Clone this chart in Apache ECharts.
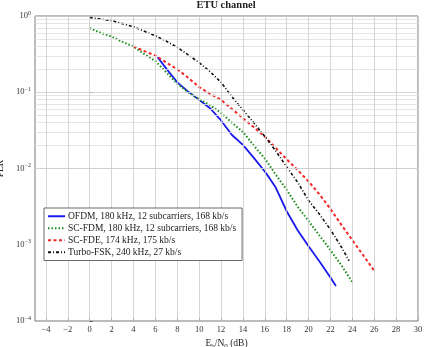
<!DOCTYPE html>
<html>
<head>
<meta charset="utf-8">
<script src="https://cdn.jsdelivr.net/npm/echarts@6/dist/echarts.min.js"></script>
<style>
  html, body { margin: 0; padding: 0; background: #fff; }
  #chart { width: 424px; height: 347px; }
</style>
</head>
<body>
<div id="chart"></div>
<script>
// Eb/N0 (dB) and PLR
const ofdmX = [6.2, 7, 8, 9, 10, 11, 12, 13, 14, 15, 16, 16.4, 17, 18, 19, 20, 21, 22, 22.5]
const ofdmY = [0.288, 0.204, 0.135, 0.102, 0.0794, 0.0617, 0.0427, 0.0275, 0.0204, 0.0138, 0.00912, 0.00759, 0.00562, 0.00275, 0.00155, 0.000955, 0.000603, 0.000372, 0.000288]

const scfdmX = [0, 1, 2, 3, 4, 5, 6, 7, 8, 9, 10, 11, 12, 13, 14, 15, 16, 17, 18, 19, 20, 21, 22, 23, 24]
const scfdmY = [0.692, 0.603, 0.537, 0.457, 0.398, 0.316, 0.257, 0.182, 0.129, 0.100, 0.0813, 0.0676, 0.0537, 0.0398, 0.0302, 0.0200, 0.0135, 0.00832, 0.00525, 0.00316, 0.00204, 0.00132, 0.000851, 0.000537, 0.000324]

const scfdeX = [4, 5, 6, 7, 8, 9, 10, 11, 12, 13, 14, 15, 16, 17, 18, 19, 20, 21, 22, 23, 24, 25, 26]
const scfdeY = [0.398, 0.347, 0.302, 0.245, 0.200, 0.155, 0.117, 0.0955, 0.0794, 0.0603, 0.0457, 0.0347, 0.0263, 0.0186, 0.0132, 0.00955, 0.00676, 0.00457, 0.00295, 0.00182, 0.00115, 0.000724, 0.000457]

const turboX = [0, 1, 2, 3, 4, 5, 6, 7, 8, 9, 10, 11, 12, 13, 14, 15, 16, 17, 18, 19, 20, 21, 22, 23, 23.7]
const turboY = [0.955, 0.912, 0.871, 0.794, 0.724, 0.631, 0.550, 0.468, 0.389, 0.309, 0.245, 0.186, 0.135, 0.0871, 0.0589, 0.0398, 0.0263, 0.0170, 0.0105, 0.00661, 0.00380, 0.00251, 0.00158, 0.000933, 0.000617]

const seriesNames = [
  'OFDM, 180 kHz, 12 subcarriers, 168 kb/s',
  'SC-FDM, 180 kHz, 12 subcarriers, 168 kb/s',
  'SC-FDE, 174 kHz, 175 kb/s',
  'Turbo-FSK, 240 kHz, 27 kb/s'
]

const xTicks = [-4, -2, 0, 2, 4, 6, 8, 10, 12, 14, 16, 18, 20, 22, 24, 26, 28, 30]
const yMajor = [1e-4, 1e-3, 1e-2, 1e-1, 1]
const yMinorMant = [2, 3, 4, 5, 6, 7, 8, 9]

const serif = '"Liberation Serif", "DejaVu Serif", serif'
const zip = (xs, ys) => xs.map((x, i) => [x, ys[i]])

const yMinor = []
yMajor.slice(0, -1).forEach(d => yMinorMant.forEach(m => yMinor.push(+(d * m).toPrecision(3))))

const fmtPow = v => {
  const e = Math.round(Math.log10(v))
  return '10{e|' + (e < 0 ? '\u2212' + (-e) : e) + '}'
}

const chart = echarts.init(document.getElementById('chart'))

function lineSeries(name, data, color, type, width) {
  return {
    name, type: 'line', data, symbol: 'none', z: 3,
    lineStyle: { color, width, type }, itemStyle: { color }
  }
}

chart.setOption({
  animation: false,
  backgroundColor: '#fff',
  title: {
    text: 'ETU channel', left: 226, textAlign: 'center', top: 0, padding: 0,
    textStyle: { fontFamily: serif, fontSize: 10.5, fontWeight: 'bold', color: '#222' }
  },
  legend: {
    orient: 'vertical', left: 44, top: 208, data: seriesNames, z: 20,
    itemWidth: 17, itemHeight: 6, itemGap: 1.5,
    padding: [3, 6, 3, 3],
    itemStyle: { opacity: 0 },
    backgroundColor: '#fff', borderColor: '#444', borderWidth: 0.8, borderRadius: 0,
    textStyle: { fontFamily: serif, fontSize: 9.5, lineHeight: 10.5, color: '#222', padding: [0, 0, 0, -2] }
  },
  grid: {
    left: 35, right: 6, top: 16, bottom: 26, outerBoundsMode: 'none', containLabel: false,
    show: true, borderColor: '#555', borderWidth: 0.8, backgroundColor: 'transparent', z: 5
  },
  xAxis: {
    type: 'value', min: -5, max: 30,
    name: 'E{s|b}/N{s|0} (dB)', nameLocation: 'middle', nameGap: 15,
    nameTextStyle: { fontFamily: serif, fontSize: 9.5, color: '#222', rich: { s: { fontSize: 7, padding: [5, 0, 0, 0], fontFamily: serif, color: '#222' } } },
    axisLine: { show: false },
    axisTick: { show: true, inside: true, length: 3, customValues: xTicks, lineStyle: { color: '#555' } },
    axisLabel: { customValues: xTicks, margin: 4, fontFamily: serif, fontSize: 8.5, color: '#333', formatter: v => (v < 0 ? '\u2212' + (-v) : '' + v) },
    splitLine: { show: false }
  },
  yAxis: {
    type: 'log', min: 1e-4, max: 1, logBase: 10,
    name: 'PLR', nameLocation: 'middle', nameGap: 21,
    nameTextStyle: { fontFamily: serif, fontSize: 9.5, color: '#222' },
    axisLine: { show: false },
    axisTick: { show: true, inside: true, length: 3, lineStyle: { color: '#555' } },
    axisLabel: {
      margin: 4, fontFamily: serif, fontSize: 8.5, color: '#333', formatter: fmtPow,
      rich: { e: { fontSize: 6, padding: [0, 0, 6, 0], fontFamily: serif, color: '#333' } }
    },
    splitLine: { show: false }
  },
  series: [
    {
      name: 'grid', type: 'line', data: [], z: 1, silent: true,
      markLine: {
        silent: true, symbol: 'none', label: { show: false }, animation: false,
        data: [
          ...yMinor.map(v => ({ yAxis: v, lineStyle: { color: '#e0e0e0', width: 0.8, type: 'solid' } })),
          ...yMajor.map(v => ({ yAxis: v, lineStyle: { color: '#cccccc', width: 0.8, type: 'solid' } })),
          ...xTicks.map(v => ({ xAxis: v, lineStyle: { color: '#cccccc', width: 0.8, type: 'solid' } }))
        ]
      }
    },
    lineSeries(seriesNames[0], zip(ofdmX, ofdmY), '#1a1aee', 'solid', 1.8),
    lineSeries(seriesNames[1], zip(scfdmX, scfdmY), '#1a8c1a', [1.5, 2], 2),
    lineSeries(seriesNames[2], zip(scfdeX, scfdeY), '#f02828', [3, 2.5], 2),
    lineSeries(seriesNames[3], zip(turboX, turboY), '#111', [3, 2, 1, 2], 1.6)
  ]
})
</script>
</body>
</html>
